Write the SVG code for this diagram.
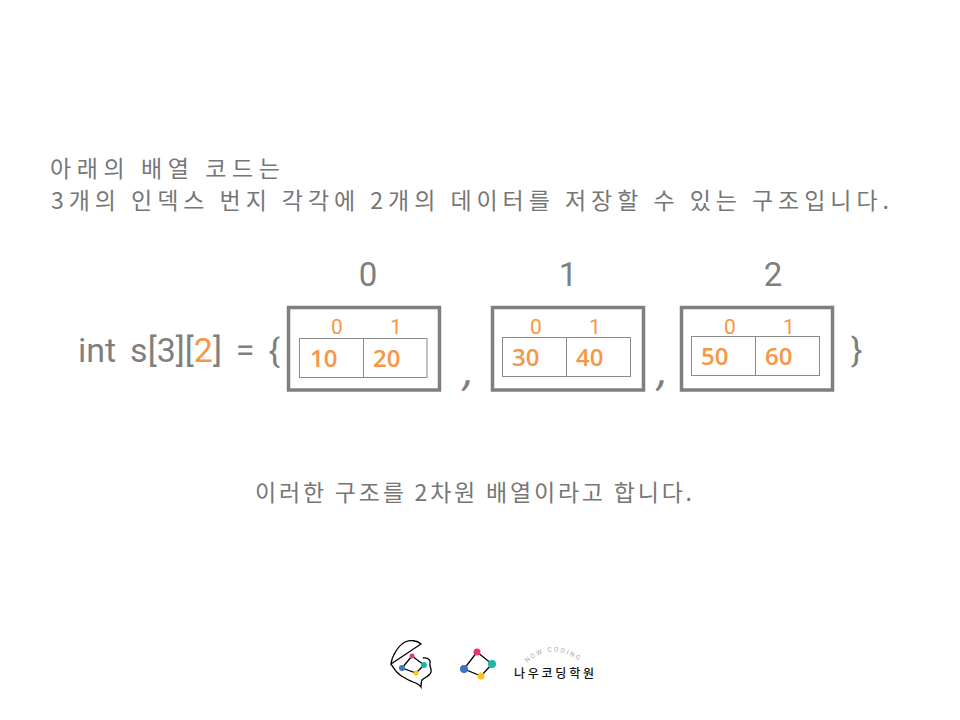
<svg xmlns="http://www.w3.org/2000/svg" width="960" height="720" viewBox="0 0 960 720">
<style>
.k{font-family:"Noto Sans CJK KR","Noto Sans",sans-serif;font-size:23px;fill:#767676;font-weight:400}
.c{font-family:"Roboto","Inter",sans-serif;fill:#7f7f7f;font-weight:400}
.big{font-size:33px;text-anchor:middle}
.o{fill:#f79646}
.idx{font-family:"Roboto",sans-serif;font-size:21px;font-weight:400;fill:#f79646;text-anchor:middle}
.val{font-family:"Open Sans",sans-serif;font-size:24px;font-weight:600;fill:#f79646}
.box{fill:none;stroke:#7f7f7f;stroke-width:3.5}
.cell{fill:none;stroke:#8a8a8a;stroke-width:1}
.line{stroke:#000;stroke-width:1.300;fill:none}
</style>
<rect width="960" height="720" fill="#fff"/>
<text class="k" x="50" y="177" textLength="230" lengthAdjust="spacing">아래의 배열 코드는</text>
<text class="k" x="51" y="209" textLength="838" lengthAdjust="spacing">3개의 인덱스 번지 각각에 2개의 데이터를 저장할 수 있는 구조입니다.</text>
<text class="k" x="255" y="501" textLength="437" lengthAdjust="spacing">이러한 구조를 2차원 배열이라고 합니다.</text>
<text class="c" x="78" y="362" font-size="34" word-spacing="5.500">int s[3][<tspan class="o">2</tspan>] = {</text>
<text class="c" x="851" y="362" font-size="34">}</text>
<text class="c" transform="translate(462 385) skewX(-14)" font-size="44" font-weight="900">,</text>
<text class="c" transform="translate(656 385) skewX(-14)" font-size="44" font-weight="900">,</text>
<g id="connectors"></g>
<g id="node-0">
<text class="c big" x="368" y="286">0</text>
<rect class="box" x="288.500" y="307.500" width="151" height="82.500"/>
<rect class="cell" x="299.500" y="338.500" width="127.500" height="39"/><path class="cell" d="M363.500 338.500V377.500"/>
<text class="idx" x="337" y="334">0</text><text class="idx" x="396" y="334">1</text>
<text class="val" x="310" y="367">10</text><text class="val" x="373" y="367">20</text>
</g>
<g id="node-1">
<text class="c big" x="568" y="286">1</text>
<rect class="box" x="492.500" y="307.500" width="151" height="82.500"/>
<rect class="cell" x="502.500" y="337.500" width="128" height="39"/><path class="cell" d="M566.500 337.500V376.500"/>
<text class="idx" x="536" y="334">0</text><text class="idx" x="595" y="334">1</text>
<text class="val" x="512" y="366">30</text><text class="val" x="576" y="366">40</text>
</g>
<g id="node-2">
<text class="c big" x="773" y="286">2</text>
<rect class="box" x="681.500" y="307.500" width="151" height="82.500"/>
<rect class="cell" x="691.500" y="336.500" width="128" height="39"/><path class="cell" d="M755.500 336.500V375.500"/>
<text class="idx" x="730" y="334">0</text><text class="idx" x="789" y="334">1</text>
<text class="val" x="701" y="365">50</text><text class="val" x="765" y="365">60</text>
</g>
<g id="logo-shell">
<path class="line" d="M391 664C392 655 399 645 405 642C410 640 417 640 421 644Z"/>
<path class="line" d="M391 664C395 670 398 675 405 678C408 680 411 681 413 682C416 683 419 684 421 687C421 684 421 682 422 680C425 677 430 676 431 672C432 669 429 666 430 663C431 660 427 657 423 658"/>
<path class="line" stroke-width="1" d="M412 656L424 665L416 673L402 668Z"/>
<circle cx="412" cy="656" r="2.500" fill="#e8356d"/><circle cx="424" cy="665" r="3" fill="#1fb5a5"/><circle cx="416" cy="673" r="2.500" fill="#fcc419"/><circle cx="402" cy="668" r="3" fill="#3f72c0"/>
</g>
<g id="logo-mark">
<path class="line" d="M477 652L492 664L481 676L464 669Z"/>
<circle cx="477" cy="652" r="3.500" fill="#e8356d"/><circle cx="492" cy="664" r="4" fill="#1fb5a5"/><circle cx="481" cy="676" r="3.500" fill="#fcc419"/><circle cx="464" cy="669" r="4" fill="#3f72c0"/>
</g>
<g id="logo-text">
<text x="514" y="678" font-family="Noto Sans CJK KR,sans-serif" font-size="12" font-weight="500" fill="#111" textLength="80" lengthAdjust="spacing">나우코딩학원</text>
<path id="arc" d="M527 663Q553 640 582 663" fill="none"/>
<text font-family="Roboto,sans-serif" font-size="6.500" fill="#aaa" letter-spacing="1.800"><textPath href="#arc">NOW CODING</textPath></text>
</g>
</svg>
